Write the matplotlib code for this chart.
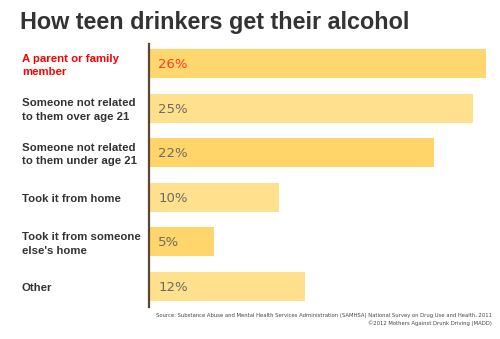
import matplotlib.pyplot as plt
from matplotlib import transforms

categories = [
    'A parent or family\nmember',
    'Someone not related\nto them over age 21',
    'Someone not related\nto them under age 21',
    'Took it from home',
    'Took it from someone\nelse\'s home',
    'Other',
]
percents = [26, 25, 22, 10, 5, 12]
bar_colors = ['#FFD76E', '#FFE08C', '#FFD56A', '#FFE08C', '#FFD66B', '#FFE08C']
label_colors = ['#FF0000', '#333333', '#333333', '#333333', '#333333', '#333333']
value_colors = ['#FF3B1F', '#6A6A6A', '#6A6A6A', '#6A6A6A', '#6A6A6A', '#6A6A6A']

W, H = 500, 339
fig = plt.figure(figsize=(W / 100, H / 100), dpi=100)
fig.patch.set_facecolor('white')

# axes placed in pixel terms: left edge at the brown axis line
ax = fig.add_axes([149 / W, 1 - 307 / H, (486 - 149) / W, (307 - 44) / H])
ypos = list(range(len(categories)))
ax.barh(ypos, percents, height=0.65, color=bar_colors, edgecolor='none')
ax.set_xlim(0, 26)
ax.set_ylim(5.46, -0.44)
ax.set_xticks([])
ax.set_yticks([])
for s in ['top', 'right', 'bottom']:
    ax.spines[s].set_visible(False)
ax.spines['left'].set_color('#5C4630')
ax.spines['left'].set_linewidth(1.6)

trans = transforms.blended_transform_factory(fig.transFigure, ax.transData)
for y, cat, c in zip(ypos, categories, label_colors):
    ax.text(22 / W, y + 0.04, cat, transform=trans, ha='left', va='center',
            fontsize=8.2, fontweight='bold', color=c, family='Liberation Sans',
            linespacing=1.45)

for y, v, c in zip(ypos, percents, value_colors):
    ax.text(0.7, y + 0.02, f'{v}%', ha='left', va='center', fontsize=9.5,
            color=c, family='DejaVu Sans')

fig.text(20 / W, 1 - 22 / H, 'How teen drinkers get their alcohol', ha='left',
         va='center', fontsize=16.8, fontweight='bold', color='#333333',
         family='Liberation Sans')

fig.text(492 / W, 1 - 316 / H,
         'Source: Substance Abuse and Mental Health Services Administration (SAMHSA) '
         'National Survey on Drug Use and Health, 2011',
         ha='right', va='center', fontsize=3.8, color='#444444')
fig.text(492 / W, 1 - 323 / H, '\u00a92012 Mothers Against Drunk Driving (MADD)',
         ha='right', va='center', fontsize=3.8, color='#444444')

fig.savefig('out.png', dpi=100)
